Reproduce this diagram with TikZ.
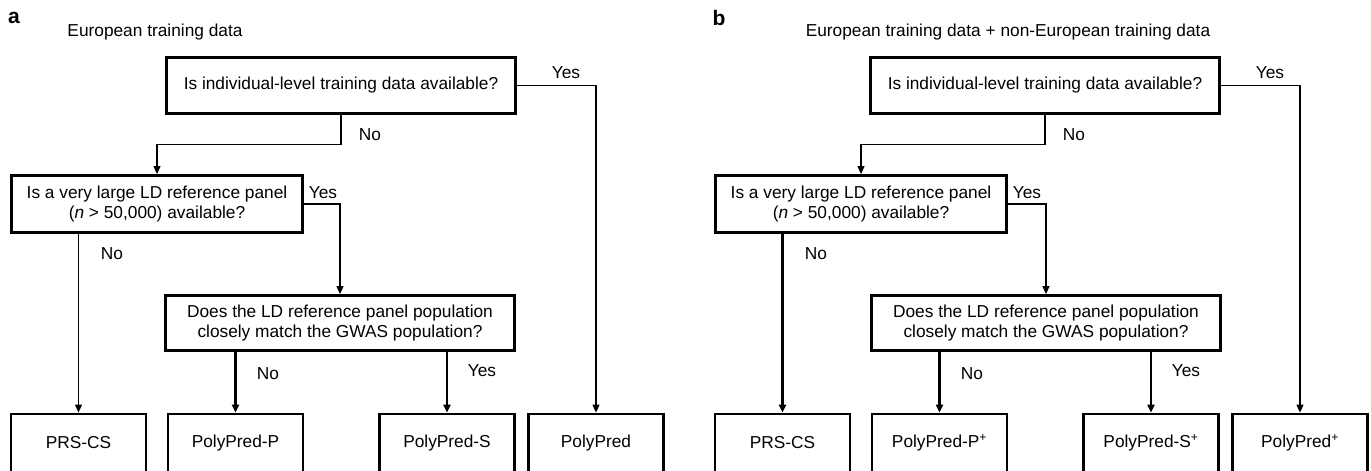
\documentclass[tikz,border=0pt]{standalone}
\usepackage{fontspec}
\setmainfont{Liberation Sans}
\usetikzlibrary{arrows.meta}
\begin{document}
\begin{tikzpicture}[x=1pt,y=-1pt]

    \tikzset{
      question/.style={
        draw,
        line width=2.8pt,
        align=center,
        inner sep=0pt,
        font=\fontsize{17.3}{20.5}\selectfont,
      },
      answer/.style={
        draw,
        line width=2.8pt,
        minimum width=135pt,
        minimum height=58pt,
        inner sep=0pt,
        font=\fontsize{17.3}{20.5}\selectfont,
      },
      lab/.style={font=\fontsize{17.3}{20.5}\selectfont, inner sep=0pt},
      panel/.style={font=\bfseries\fontsize{21}{21}\selectfont, inner sep=0pt},
      arr/.style={line width=1.1pt, -{Triangle[length=8pt,width=7pt]}},
      arrthick/.style={line width=2.2pt, -{Triangle[length=8pt,width=7pt]}},
    }
    \useasboundingbox (0,0) rectangle (1371,471);

    % panel a
    \node[panel] (apanel) at (14,18) {a};
    \node[lab] (atitle) at (155,32) {European training data};
    \node[question, minimum width=349pt, minimum height=56pt] (a1) at (341,85.5) {Is individual-level training data available?};
    \node[question, minimum width=291pt, minimum height=57pt] (a2) at (157,204) {Is a very large LD reference panel\\(\textit{n} > 50,000) available?};
    \node[question, minimum width=349pt, minimum height=55pt] (a3) at (340,323) {Does the LD reference panel population\\closely match the GWAS population?};
    \node[answer] (a4) at (78.5,443) {PRS-CS};
    \node[answer] (a5) at (235.5,443) {PolyPred-P};
    \node[answer] (a6) at (447,443) {PolyPred-S};
    \node[answer] (a7) at (596,443) {PolyPred};
    \draw[arr] (a1.south) -- ++(0,30) -| (a2.north);
    \draw[arr] (a1.east) -| (a7.north);
    \draw[arr] (a2.east) -| (a3.north);
    \draw[arr] (a2.south -| a4.north) -- (a4.north);
    \draw[arrthick] (a3.south -| a5.north) -- (a5.north);
    \draw[arrthick] (a3.south -| a6.north) -- (a6.north);
    \node[lab] (ano1) at (370,135) {No};
    \node[lab] (ayes1) at (566,73) {Yes};
    \node[lab] (ayes2) at (323,193) {Yes};
    \node[lab] (ano2) at (112,254) {No};
    \node[lab] (ano3) at (268,374) {No};
    \node[lab] (ayes3) at (482,371) {Yes};

    % panel b
    \begin{scope}[xshift=704pt]
    \node[panel] (bpanel) at (15,18) {b};
    \node[lab] (btitle) at (304,32) {European training data + non-European training data};
    \node[question, minimum width=349pt, minimum height=56pt] (b1) at (341,85.5) {Is individual-level training data available?};
    \node[question, minimum width=291pt, minimum height=57pt] (b2) at (157,204) {Is a very large LD reference panel\\(\textit{n} > 50,000) available?};
    \node[question, minimum width=349pt, minimum height=55pt] (b3) at (342,323) {Does the LD reference panel population\\closely match the GWAS population?};
    \node[answer] (b4) at (78.5,443) {PRS-CS};
    \node[answer] (b5) at (235.5,443) {PolyPred-P\textsuperscript{+}};
    \node[answer] (b6) at (447,443) {PolyPred-S\textsuperscript{+}};
    \node[answer] (b7) at (596,443) {PolyPred\textsuperscript{+}};
    \draw[arr] (b1.south) -- ++(0,30) -| (b2.north);
    \draw[arr] (b1.east) -| (b7.north);
    \draw[arr] (b2.east) -| (b3.north);
    \draw[arrthick] (b2.south -| b4.north) -- (b4.north);
    \draw[arrthick] (b3.south -| b5.north) -- (b5.north);
    \draw[arrthick] (b3.south -| b6.north) -- (b6.north);
    \node[lab] (bno1) at (370,135) {No};
    \node[lab] (byes1) at (566,73) {Yes};
    \node[lab] (byes2) at (323,193) {Yes};
    \node[lab] (bno2) at (112,254) {No};
    \node[lab] (bno3) at (268,374) {No};
    \node[lab] (byes3) at (482,371) {Yes};
    \end{scope}

\end{tikzpicture}
\end{document}
